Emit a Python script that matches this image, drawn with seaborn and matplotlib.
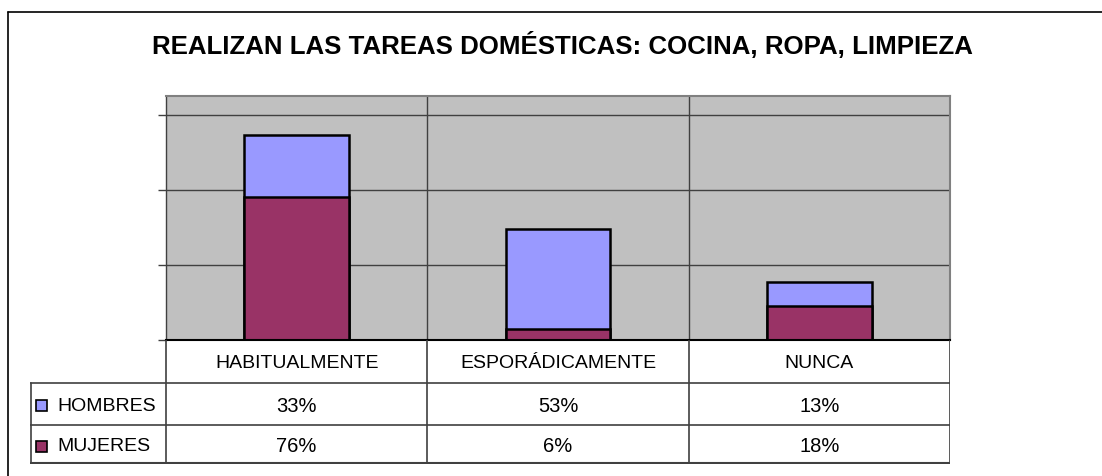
import matplotlib
matplotlib.use("Agg")
import matplotlib.pyplot as plt
import seaborn as sns
import pandas as pd
from matplotlib.lines import Line2D
from matplotlib.patches import Rectangle

# Data
categorias = ['HABITUALMENTE', 'ESPORÁDICAMENTE', 'NUNCA']
hombres = [33, 53, 13]
mujeres = [76, 6, 18]
series = ['HOMBRES', 'MUJERES']
titulo = 'REALIZAN LAS TAREAS DOMÉSTICAS: COCINA, ROPA, LIMPIEZA'

col_hombres = '#9999FF'
col_mujeres = '#993366'

df = pd.DataFrame({'cat': categorias, 'HOMBRES': hombres, 'MUJERES': mujeres})
df['total'] = df['HOMBRES'] + df['MUJERES']

sns.set_style('white')
plt.rcParams['font.family'] = ['Liberation Sans', 'DejaVu Sans']
plt.rcParams['text.color'] = 'black'

W, H = 1102, 477
fig = plt.figure(figsize=(W / 100, H / 100), dpi=100)

# main plot area (pixel layout)
px_left, px_right, px_top, px_bottom = 166, 950, 97, 341
ax = fig.add_axes([px_left / W, 1 - px_bottom / H,
                   (px_right - px_left) / W, (px_bottom - px_top) / H])
ax.set_facecolor('#C0C0C0')

# stacked bars: total (hombres on top) then mujeres
sns.barplot(data=df, x='cat', y='total', color=col_hombres, width=0.4,
            edgecolor='black', linewidth=1.8, saturation=1, ax=ax, zorder=3)
sns.barplot(data=df, x='cat', y='MUJERES', color=col_mujeres, width=0.4,
            edgecolor='black', linewidth=1.8, saturation=1, ax=ax, zorder=4)

ax.set_xlim(-0.5, len(categorias) - 0.5)
ax.set_ylim(0, 130)
ax.set_yticks([0, 40, 80, 120])
ax.set_yticklabels([])
ax.set_xticks([])
ax.set_xlabel('')
ax.set_ylabel('')
ax.tick_params(axis='y', direction='out', length=6, width=1, color='#404040', left=True)
for y in [40, 80, 120]:
    ax.axhline(y, color='#404040', lw=1, zorder=1)
for i in range(1, len(categorias)):
    ax.axvline(i - 0.5, color='#404040', lw=1, zorder=1)
for side in ['top', 'right']:
    ax.spines[side].set_color('#808080')
    ax.spines[side].set_linewidth(1.5)
ax.spines['left'].set_color('#404040')
ax.spines['left'].set_linewidth(1)
ax.spines['bottom'].set_color('black')
ax.spines['bottom'].set_linewidth(1.5)
ax.spines['bottom'].set_zorder(5)

# data table below the chart
tab_left = 30
cat_w = (px_right - px_left) / len(categorias)
tab_bottom = 465
tax = fig.add_axes([tab_left / W, 1 - tab_bottom / H,
                    (px_right - tab_left) / W, (tab_bottom - px_bottom) / H])
label_w = (px_left - tab_left) / cat_w
tax.set_xlim(-0.5 - label_w, len(categorias) - 0.5)
row_edges = [0, 43, 85, 124]
tax.set_ylim(row_edges[-1], 0)
tax.axis('off')

lc = '#404040'
x0 = -0.5 - label_w
x_end = len(categorias) - 0.5
# horizontal lines
tax.plot([x0, x_end], [row_edges[1]] * 2, color=lc, lw=1.2)
tax.plot([x0, x_end], [row_edges[2]] * 2, color=lc, lw=1.2)
tax.plot([x0, x_end], [row_edges[3] - 0.8] * 2, color=lc, lw=1.5)
# vertical lines
for i in range(len(categorias) + 1):
    tax.plot([i - 0.5] * 2, [0, row_edges[-1]], color=lc, lw=1.2)
tax.plot([x0 + 0.004] * 2, [row_edges[1], row_edges[-1]], color=lc, lw=1.2)

for i, c in enumerate(categorias):
    tax.text(i, (row_edges[0] + row_edges[1]) / 2 + 1.5, c, ha='center',
             va='center', fontsize=14)
for r, (name, vals, col) in enumerate(zip(series, [hombres, mujeres],
                                            [col_hombres, col_mujeres])):
    yc = (row_edges[r + 1] + row_edges[r + 2]) / 2 + 1.5
    sq = 11 / cat_w
    tax.add_patch(Rectangle((x0 + 6 / cat_w, yc - 5.5), sq, 11,
                            facecolor=col, edgecolor='black', lw=1.2))
    tax.text(x0 + 27 / cat_w, yc, name, ha='left', va='center', fontsize=14)
    for i, v in enumerate(vals):
        tax.text(i, yc, f'{v}%', ha='center', va='center', fontsize=14.5)

# title
fig.text(562 / W, 1 - 45 / H, titulo, ha='center', va='center',
         fontsize=18.6, fontweight='bold')

# outer chart frame (only top and left edges visible)
fig.add_artist(Line2D([8 / W, 1], [1 - 13 / H, 1 - 13 / H], color='black', lw=1.2))
fig.add_artist(Line2D([8 / W, 8 / W], [0, 1 - 13 / H], color='black', lw=1.2))

fig.savefig('out.png', dpi=100)
